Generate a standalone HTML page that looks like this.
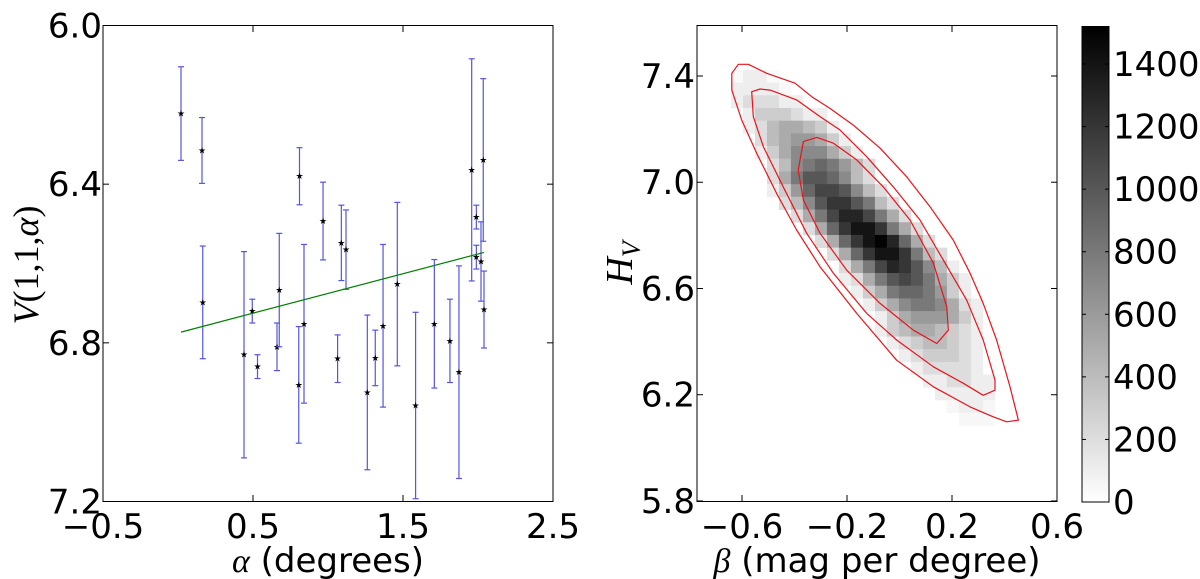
<!DOCTYPE html>
<html><head><meta charset="utf-8">
<style>
html,body{margin:0;padding:0;background:#fff;}
svg{display:block;}
text{font-family:"DejaVu Sans","Liberation Sans",sans-serif;fill:#000;}
.serif{font-family:"Liberation Serif","DejaVu Serif",serif;}
</style></head>
<body>
<svg id="fig" width="1200" height="579" viewBox="0 0 1200 579" xmlns="http://www.w3.org/2000/svg">
<defs>
<clipPath id="clipL"><rect x="103" y="25.5" width="450" height="476"/></clipPath>
<clipPath id="clipR"><rect x="697" y="25.5" width="360" height="476"/></clipPath>
<linearGradient id="cbGrad" x1="0" y1="1" x2="0" y2="0">
<stop offset="0" stop-color="#ffffff"/><stop offset="1" stop-color="#000000"/>
</linearGradient>
</defs>
<g id="left"></g>
<g id="right"></g>
<g id="cbar"></g>
</svg>
<script>
// ---------- Left panel data ----------
const alphaDeg = [0.02,0.16,0.165,0.44,0.495,0.53,0.66,0.675,0.81,0.805,0.84,0.967,1.064,1.089,1.12,1.262,1.315,1.367,1.462,1.584,1.709,1.813,1.873,1.958,1.989,1.989,2.02,2.035,2.04];
const reducedMag = [6.222,6.315,6.698,6.83,6.72,6.86,6.81,6.667,6.38,6.906,6.752,6.493,6.84,6.548,6.565,6.925,6.838,6.757,6.652,6.958,6.752,6.795,6.874,6.364,6.483,6.584,6.595,6.339,6.716];
const magErr = [0.118,0.083,0.142,0.26,0.03,0.03,0.06,0.143,0.072,0.147,0.2,0.098,0.06,0.095,0.1,0.195,0.07,0.205,0.206,0.235,0.162,0.105,0.268,0.28,0.03,0.03,0.1,0.205,0.097];
const fitAlpha = [0.02,2.04];
const fitIntercept = 6.775;
const fitSlope = -0.0995;
const xTicksL = [-0.5,0.5,1.5,2.5];
const xTickLabelsL = ["\u22120.5","0.5","1.5","2.5"];
const yTicksL = [6.0,6.4,6.8,7.2];
const yTickLabelsL = ["6.0","6.4","6.8","7.2"];

// ---------- Right panel data ----------
const betaStart = -0.642, betaStep = 0.0457;
const hStart = 7.423, hStep = 0.0478;
const rowStartCol = [0,0,0,1,1,2,2,3,3,3,4,5,6,7,8,9,9,10,11,12,12,13,14,15,16,17,18,19];
const rowCounts = [
[0.3,1,1,0.3],
[1,1,1,1,0.4],
[1,2,2,2,1,1],
[1,3,3,3,2,1,1],
[1,2,4,5,5,4,3,1],
[2,4,5,6,6,5,3,1],
[1,3,5,7,7,7,5,3,1],
[2,4,7,8,9,8,6,4,2],
[2,5,8,10,10,9,7,4,2],
[1,3,6,9,11,11,10,7,4,2],
[2,4,7,10,12,12,10,8,4,2],
[2,5,8,11,13,13,11,8,5,2],
[2,5,9,12,14,14,12,8,5,2],
[2,5,9,12,14,15,13,9,5,2],
[2,5,9,12,14,14,12,8,4,2],
[2,5,8,11,13,12,10,7,4,1],
[1,2,5,8,10,11,10,8,5,3,1],
[1,3,5,8,9,9,8,6,3,1],
[1,3,5,7,8,8,7,5,2,1],
[1,3,5,6,6,6,5,3,1],
[1,3,4,5,5,4,3,2,1],
[1,2,3,4,4,3,2,1],
[1,2,3,3,3,2,1],
[1,2,2,2,2,1],
[1,1,2,2,1,1],
[1,1,1,1,1],
[0.5,1,1,0.5],
[0.5,0.5,0.5]
];
const countScale = 100;
const cmax = 1520;
const contourOuterBeta = [-0.639,-0.614,-0.576,-0.506,-0.398,-0.334,-0.265,-0.176,-0.074,0.027,0.116,0.205,0.269,0.319,0.370,0.421,0.453,0.408,0.357,0.269,0.129,-0.011,-0.163,-0.303,-0.392,-0.468,-0.544,-0.601,-0.639];
const contourOuterH = [7.410,7.444,7.444,7.410,7.373,7.322,7.278,7.215,7.128,7.021,6.908,6.782,6.657,6.544,6.406,6.230,6.104,6.098,6.117,6.154,6.230,6.330,6.506,6.682,6.820,6.958,7.109,7.234,7.347];
const contourMidBeta = [-0.563,-0.531,-0.493,-0.392,-0.303,-0.227,-0.125,-0.024,0.078,0.167,0.256,0.319,0.364,0.364,0.319,0.243,0.129,-0.011,-0.125,-0.252,-0.354,-0.443,-0.519,-0.557];
const contourMidH = [7.341,7.351,7.347,7.310,7.247,7.197,7.096,6.983,6.858,6.707,6.556,6.406,6.255,6.217,6.198,6.243,6.305,6.406,6.506,6.657,6.808,6.983,7.134,7.247];
const contourInnerBeta = [-0.386,-0.366,-0.315,-0.252,-0.163,-0.062,0.040,0.129,0.180,0.186,0.142,0.053,-0.074,-0.201,-0.303,-0.366];
const contourInnerH = [7.046,7.153,7.169,7.147,7.084,6.983,6.858,6.695,6.531,6.443,6.393,6.443,6.544,6.669,6.808,6.933];
const xTicksR = [-0.6,-0.2,0.2,0.6];
const xTickLabelsR = ["\u22120.6","\u22120.2","0.2","0.6"];
const yTicksR = [7.4,7.0,6.6,6.2,5.8];
const yTickLabelsR = ["7.4","7.0","6.6","6.2","5.8"];
const cbTicks = [0,200,400,600,800,1000,1200,1400];
const cbTickLabels = ["0","200","400","600","800","1000","1200","1400"];

// ---------- scales ----------
const NS = "http://www.w3.org/2000/svg";
const xL = a => 103 + (a + 0.5) * 150;
const yL = v => 25.5 + (v - 6.0) * 396.67;
const xR = b => 742 + (b + 0.6) * 262.5;
const yR = h => 76 + (7.4 - h) * 265.6;
const yCB = c => 502 - c / cmax * 475.5;

function mk(tag, attrs, parent){
  const e = document.createElementNS(NS, tag);
  for (const k in attrs) e.setAttribute(k, attrs[k]);
  parent.appendChild(e);
  return e;
}
const L = document.getElementById('left');
const R = document.getElementById('right');
const CB = document.getElementById('cbar');

// ===== Left panel =====
const plotL = mk('g', {'clip-path':'url(#clipL)'}, L);


for (let i = 0; i < alphaDeg.length; i++) {
  const x = xL(alphaDeg[i]), y1 = yL(reducedMag[i] - magErr[i]), y2 = yL(reducedMag[i] + magErr[i]);
  const g = mk('g', {}, plotL);
  
  
  mk('line', {x1:x, y1:y1, x2:x, y2:y2, stroke:'#5555dd', 'stroke-width':1.2}, g);
  mk('line', {x1:x-3, y1:y1, x2:x+3, y2:y1, stroke:'#5555dd', 'stroke-width':1.2}, g);
  mk('line', {x1:x-3, y1:y2, x2:x+3, y2:y2, stroke:'#5555dd', 'stroke-width':1.2}, g);
  const s = mk('text', {x:x, y:yL(reducedMag[i]) + 3, 'text-anchor':'middle', 'font-size':9, fill:'#000040'}, g);
  s.textContent = '\u2605';
}
const fit = mk('line', {x1:xL(fitAlpha[0]), y1:yL(fitIntercept + fitSlope*fitAlpha[0]), x2:xL(fitAlpha[1]), y2:yL(fitIntercept + fitSlope*fitAlpha[1]), stroke:'#008000', 'stroke-width':1.2}, L);



function axesBox(parent, x0, y0, x1, y1, name){
  const r = mk('rect', {x:x0, y:y0, width:x1-x0, height:y1-y0, fill:'none', stroke:'#000', 'stroke-width':1}, parent);
  
  
}
axesBox(L, 103, 25.5, 553, 501.5, 'left-axes-frame');
xTicksL.forEach((t, i) => {
  const x = xL(t);
  mk('line', {x1:x, y1:501.5, x2:x, y2:495, stroke:'#000'}, L);
  mk('line', {x1:x, y1:25.5, x2:x, y2:32, stroke:'#000'}, L);
  const tx = mk('text', {x:x, y:538, 'text-anchor':'middle', 'font-size':34}, L);
  tx.textContent = xTickLabelsL[i];
  
  
});
yTicksL.forEach((t, i) => {
  const y = yL(t);
  mk('line', {x1:103, y1:y, x2:109, y2:y, stroke:'#000'}, L);
  mk('line', {x1:553, y1:y, x2:547, y2:y, stroke:'#000'}, L);
  const tx = mk('text', {x:102, y:y + 12, 'text-anchor':'end', 'font-size':34}, L);
  tx.textContent = yTickLabelsL[i];
  
  
});
const xtl = mk('text', {x:328, y:572, 'text-anchor':'middle', 'font-size':34}, L);
xtl.innerHTML = '<tspan class="serif" font-style="italic">\u03b1</tspan> (degrees)';


const ytl = mk('text', {x:0, y:0, 'text-anchor':'middle', 'font-size':36, 'class':'serif', transform:'translate(38,265) rotate(-90)'}, L);
ytl.innerHTML = '<tspan font-style="italic">V</tspan>(1,1,<tspan font-style="italic">\u03b1</tspan>)';



// ===== Right panel =====
const plotR = mk('g', {'clip-path':'url(#clipR)'}, R);
const hm = mk('g', {}, plotR);


for (let r = 0; r < rowCounts.length; r++) {
  const hTop = hStart - r * hStep, hBot = hTop - hStep;
  for (let j = 0; j < rowCounts[r].length; j++) {
    const c = rowStartCol[r] + j;
    const b0 = betaStart + c * betaStep, b1 = b0 + betaStep;
    const v = rowCounts[r][j] * countScale;
    const g = Math.round(255 * (1 - Math.min(v / cmax, 1)));
    const cell = mk('rect', {x:xR(b0), y:yR(hTop), width:xR(b1)-xR(b0)+0.4, height:yR(hBot)-yR(hTop)+0.4, fill:`rgb(${g},${g},${g})`}, hm);
    
    
  }
}
function contour(bs, hs, name){
  const pts = bs.map((b, i) => xR(b).toFixed(1) + ',' + yR(hs[i]).toFixed(1)).join(' ');
  const p = mk('polygon', {points:pts, fill:'none', stroke:'#e8141c', 'stroke-width':1.2, 'stroke-linejoin':'round'}, plotR);
  
  
}
contour(contourOuterBeta, contourOuterH, 'contour-outer');
contour(contourMidBeta, contourMidH, 'contour-middle');
contour(contourInnerBeta, contourInnerH, 'contour-inner');
axesBox(R, 697, 25.5, 1057, 501.5, 'right-axes-frame');
xTicksR.forEach((t, i) => {
  const x = xR(t);
  mk('line', {x1:x, y1:501.5, x2:x, y2:495, stroke:'#000'}, R);
  mk('line', {x1:x, y1:25.5, x2:x, y2:32, stroke:'#000'}, R);
  const tx = mk('text', {x:x, y:538, 'text-anchor':'middle', 'font-size':34}, R);
  tx.textContent = xTickLabelsR[i];
  
  
});
yTicksR.forEach((t, i) => {
  const y = yR(t);
  mk('line', {x1:697, y1:y, x2:703, y2:y, stroke:'#000'}, R);
  mk('line', {x1:1057, y1:y, x2:1051, y2:y, stroke:'#000'}, R);
  const tx = mk('text', {x:695, y:y + 12, 'text-anchor':'end', 'font-size':34}, R);
  tx.textContent = yTickLabelsR[i];
  
  
});
const xtr = mk('text', {x:877, y:572, 'text-anchor':'middle', 'font-size':34}, R);
xtr.innerHTML = '<tspan class="serif" font-style="italic">\u03b2</tspan> (mag per degree)';


const ytr = mk('text', {x:0, y:0, 'text-anchor':'middle', 'font-size':38, 'class':'serif', transform:'translate(632,263) rotate(-90)'}, R);
ytr.innerHTML = '<tspan font-style="italic">H</tspan><tspan font-style="italic" font-size="26" dy="8">V</tspan>';



// ===== Colorbar =====
const cbr = mk('rect', {x:1082, y:yCB(cmax), width:27, height:yCB(0)-yCB(cmax), fill:'url(#cbGrad)', stroke:'#000', 'stroke-width':1}, CB);


cbTicks.forEach((t, i) => {
  const y = yCB(t);
  mk('line', {x1:1082, y1:y, x2:1086, y2:y, stroke:'#000'}, CB);
  mk('line', {x1:1109, y1:y, x2:1105, y2:y, stroke:'#000'}, CB);
  const tx = mk('text', {x:1113, y:y + 12, 'text-anchor':'start', 'font-size':34}, CB);
  tx.textContent = cbTickLabels[i];
  
  
});
</script>
</body></html>
